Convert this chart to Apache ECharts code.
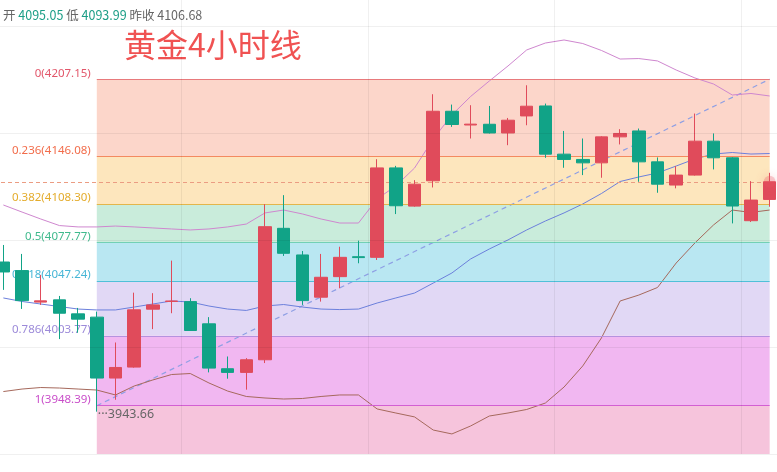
<!DOCTYPE html>
<html lang="zh">
<head>
    <meta charset="utf-8">
    <title>黄金4小时线</title>
    <script src="https://cdn.jsdelivr.net/npm/echarts@6.0.0/dist/echarts.min.js"></script>
</head>
<body style="margin: 0; overflow: hidden">
<!-- first bar is half cut off on the left, so the chart box starts a little left of the window -->
<div id="main" style="position: absolute; left: -6.34px; top: 0; width: 785px; height: 472px"></div>
<script type="text/javascript">
    // K-line bars (4h)
    const categories = ['1', '2', '3', '4', '5', '6', '7', '8', '9', '10', '11', '12', '13', '14',
        '15', '16', '17', '18', '19', '20', '21', '22', '23', '24', '25', '26', '27', '28',
        '29', '30', '31', '32', '33', '34', '35', '36', '37', '38', '39', '40', '41', '42'];
    const openPrices = [4062.3, 4055.5, 4030.5, 4032.3, 4021.2, 4018.6, 3970.3, 3979.0, 4024.9, 4031.0,
        4030.9, 4013.3, 3977.7, 3974.8, 3984.8, 4089.0, 4067.9, 4034.4, 4050.7, 4066.5,
        4066.0, 4136.9, 4106.6, 4126.7, 4181.8, 4170.9, 4171.5, 4164.6, 4178.1, 4186.0,
        4147.8, 4143.6, 4140.9, 4161.5, 4166.2, 4141.7, 4123.3, 4131.2, 4158.1, 4144.9,
        4095.05, 4111.9];
    const closePrices = [4054.4, 4031.7, 4031.5, 4021.7, 4017.0, 3970.3, 3978.7, 4024.4, 4028.3, 4031.4,
        4008.0, 3978.2, 3974.8, 3984.8, 4090.3, 4069.2, 4031.7, 4050.2, 4066.0, 4065.8,
        4136.9, 4106.9, 4124.0, 4181.8, 4171.3, 4171.6, 4164.6, 4174.7, 4185.8, 4147.8,
        4143.6, 4140.9, 4161.5, 4164.2, 4141.7, 4124.0, 4131.2, 4158.1, 4144.9, 4106.68,
        4111.4, 4125.9];
    const lowPrices = [4040.2, 4025.1, 4028.3, 4001.2, 4006.2, 3943.66, 3953.1, 3978.5, 4009.1, 4021.7,
        4007.6, 3974.8, 3969.8, 3961.1, 3982.2, 4067.1, 4028.3, 4030.9, 4041.5, 4061.3,
        4063.9, 4100.3, 4106.1, 4121.4, 4169.4, 4160.2, 4164.2, 4154.9, 4170.7, 4144.9,
        4137.0, 4131.2, 4129.1, 4155.5, 4125.9, 4117.2, 4120.7, 4130.8, 4135.7, 4092.9,
        4093.99, 4106.1];
    const highPrices = [4075.8, 4068.7, 4052.0, 4035.4, 4025.9, 4023.0, 3998.5, 4038.0, 4037.6, 4063.4,
        4033.6, 4018.6, 3987.4, 3986.1, 4108.2, 4115.3, 4071.0, 4068.7, 4074.4, 4079.2,
        4143.8, 4138.5, 4127.2, 4195.3, 4187.1, 4186.6, 4186.0, 4176.5, 4202.4, 4187.9,
        4166.2, 4160.2, 4162.0, 4167.6, 4168.1, 4145.2, 4138.3, 4180.0, 4164.2, 4145.5,
        4126.4, 4133.0];

    // Bollinger bands
    const bollUpper = [4107.5, 4101.9, 4096.4, 4091.2, 4090.1, 4090.1, 4090.8, 4090.1, 4089.3, 4088.5,
        4087.7, 4088.5, 4090.1, 4092.4, 4101.2, 4103.5, 4100.4, 4096.4, 4093.2, 4093.2,
        4112.3, 4122.6, 4136.8, 4159.8, 4178.9, 4193.5, 4205.8, 4217.7, 4230.4, 4235.9,
        4238.3, 4235.5, 4230.0, 4223.2, 4223.6, 4221.7, 4214.5, 4208.2, 4203.4, 4194.7,
        4195.9, 4193.9];
    const bollMid = [4033.8, 4031.0, 4029.0, 4027.0, 4025.0, 4024.3, 4024.3, 4026.6, 4029.0, 4031.4,
        4030.6, 4027.4, 4025.0, 4023.9, 4027.4, 4028.6, 4026.6, 4025.0, 4024.6, 4025.0,
        4029.8, 4033.8, 4037.7, 4045.6, 4053.6, 4064.7, 4072.6, 4079.8, 4087.7, 4094.8,
        4101.2, 4108.3, 4116.6, 4126.1, 4129.7, 4132.9, 4138.4, 4144.0, 4147.9, 4149.1,
        4147.9, 4148.3];
    const bollLower = [3959.6, 3961.6, 3962.8, 3962.4, 3961.6, 3960.8, 3956.9, 3964.0, 3968.8, 3973.1,
        3973.9, 3966.4, 3960.0, 3955.7, 3954.5, 3953.7, 3954.1, 3955.7, 3956.9, 3956.9,
        3945.8, 3942.6, 3939.5, 3929.1, 3926.0, 3932.3, 3940.2, 3942.6, 3945.4, 3950.5,
        3963.2, 3979.9, 4002.1, 4031.4, 4036.1, 4042.1, 4061.5, 4077.4, 4091.7, 4103.5,
        4101.6, 4103.5];

    // Fibonacci retracement, drawn from bar 6 low to bar 42
    const fibRatios = ['0', '0.236', '0.382', '0.5', '0.618', '0.786', '1'];
    const fibPrices = [4207.15, 4146.08, 4108.30, 4077.77, 4047.24, 4003.77, 3948.39];
    const trendFrom = [5, 3948.39];
    const trendTo = [41, 4207.15];
    const swingLow = 3943.66;
    const lastPrice = 4125.9;

    // price range shown
    const priceMin = 3910.1;
    const priceMax = 4270.0;

    const bandColors = ['#fcd6ca', '#fde6bd', '#c9ecdb', '#b9e7f2', '#e1d8f5', '#f1b7f1', '#f6c4dc'];
    const lineColors = ['#e87a7c', '#f48a60', '#e3b64b', '#72d0b5', '#4fc0d8', '#b592df', '#d35fd3'];
    const labelColors = ['#e2566a', '#f26c4a', '#e4ac2c', '#3fba8d', '#47b6d6', '#9c8ad9', '#c94dc9'];
    const upColor = '#e04b5b';
    const downColor = '#11a387';

    const candleData = categories.map(function (c, i) {
        return [openPrices[i], closePrices[i], lowPrices[i], highPrices[i]];
    });

    const bandEdges = fibPrices.concat([priceMin]);
    const bandAreas = fibPrices.map(function (p, k) {
        return [
            {coord: [trendFrom[0], p], itemStyle: {color: bandColors[k], opacity: 1}},
            {coord: [trendTo[0], bandEdges[k + 1]]}
        ];
    });
    const fibLines = fibPrices.map(function (p, k) {
        return [
            {
                coord: [trendFrom[0], p],
                lineStyle: {color: lineColors[k], width: 1.2, type: 'solid'},
                label: {formatter: fibRatios[k] + '(' + p.toFixed(2) + ')', color: labelColors[k]}
            },
            {coord: [trendTo[0], p]}
        ];
    });

    var myChart = echarts.init(document.getElementById('main'), null, {renderer: 'canvas'});

    var option = {
        animation: false,
        backgroundColor: '#ffffff',
        title: [
            {
                text: '{g|开 }{n|4095.05}{g| 低 }{n|4093.99}{g| 昨收 4106.68}',
                left: 4,
                top: 4,
                textStyle: {
                    rich: {
                        g: {color: '#666666', fontSize: 12.5, fontWeight: 'normal', fontFamily: 'Noto Sans CJK SC'},
                        n: {color: '#1c9e87', fontSize: 12.5, fontWeight: 'normal', fontFamily: 'Noto Sans CJK SC'}
                    }
                }
            },
            {
                text: '黄金4小时线',
                left: 125,
                top: 24,
                textStyle: {
                    color: '#f05252',
                    fontSize: 32,
                    fontWeight: 'normal',
                    fontFamily: 'Noto Sans CJK SC'
                }
            }
        ],
        grid: {
            left: 0,
            right: 0,
            top: 0,
            bottom: 18
        },
        xAxis: [
            {
                type: 'category',
                data: categories,
                boundaryGap: true,
                axisLine: {show: false},
                axisTick: {show: false},
                axisLabel: {show: false},
                splitLine: {show: false}
            },
            {
                type: 'value',
                min: -0.5,
                max: 41.5,
                interval: 10,
                z: 10,
                axisLine: {show: false},
                axisTick: {show: false},
                axisLabel: {show: false},
                splitLine: {show: true, showMinLine: false, showMaxLine: false, lineStyle: {color: 'rgba(0,0,0,0.06)', width: 1}}
            }
        ],
        yAxis: [
            {
                type: 'value',
                min: priceMin,
                max: priceMax,
                axisLine: {show: false},
                axisTick: {show: false},
                axisLabel: {show: false},
                splitLine: {show: false}
            },
            {
                type: 'value',
                min: 0,
                max: 4.243,
                interval: 1,
                z: 10,
                axisLine: {show: false},
                axisTick: {show: false},
                axisLabel: {show: false},
                splitLine: {show: true, showMaxLine: false, lineStyle: {color: 'rgba(0,0,0,0.06)', width: 1}}
            }
        ],
        series: [
            {
                name: 'fib',
                type: 'line',
                xAxisIndex: 1,
                yAxisIndex: 0,
                data: [trendFrom, trendTo],
                showSymbol: false,
                symbol: 'none',
                z: 1,
                lineStyle: {color: '#8e9fe4', width: 1.2, type: [5, 4]},
                markArea: {
                    silent: true,
                    data: bandAreas
                },
                markLine: {
                    silent: true,
                    symbol: ['none', 'none'],
                    label: {
                        show: true,
                        position: 'start',
                        distance: 6,
                        verticalAlign: 'bottom',
                        fontSize: 11.5,
                        fontFamily: 'Noto Sans'
                    },
                    data: fibLines
                }
            },
            {
                name: 'upper',
                type: 'line',
                data: bollUpper,
                symbol: 'none',
                z: 3,
                lineStyle: {color: '#cf87cf', width: 1}
            },
            {
                name: 'mid',
                type: 'line',
                data: bollMid,
                symbol: 'none',
                z: 3,
                lineStyle: {color: '#6c80dc', width: 1}
            },
            {
                name: 'lower',
                type: 'line',
                data: bollLower,
                symbol: 'none',
                z: 3,
                lineStyle: {color: '#a6695c', width: 1}
            },
            {
                name: 'kline',
                type: 'candlestick',
                data: candleData,
                barWidth: 13,
                z: 5,
                itemStyle: {
                    color: upColor,
                    color0: downColor,
                    borderColor: upColor,
                    borderColor0: downColor,
                    borderWidth: 1
                },
                markLine: {
                    silent: true,
                    symbol: ['none', 'none'],
                    label: {show: false},
                    lineStyle: {color: '#eb9c82', type: [4, 3], width: 1},
                    data: [{yAxis: lastPrice}]
                },
                markPoint: {
                    silent: true,
                    symbol: 'circle',
                    symbolSize: 0,
                    data: [{coord: [categories[trendFrom[0]], swingLow]}],
                    label: {
                        show: true,
                        position: 'right',
                        distance: 1,
                        offset: [0, 3],
                        formatter: '···' + swingLow.toFixed(2),
                        color: '#666666',
                        fontSize: 12.5,
                        fontFamily: 'Noto Sans'
                    }
                }
            },
            {
                // glow on the live price
                name: 'last',
                type: 'scatter',
                data: [[categories[categories.length - 1], lastPrice]],
                symbolSize: 12,
                silent: true,
                z: 6,
                itemStyle: {
                    color: 'rgba(232, 84, 96, 0.35)',
                    shadowBlur: 10,
                    shadowColor: 'rgba(232, 84, 96, 0.8)'
                }
            }
        ]
    };

    myChart.setOption(option);
    window.addEventListener('resize', myChart.resize);
</script>
</body>
</html>
